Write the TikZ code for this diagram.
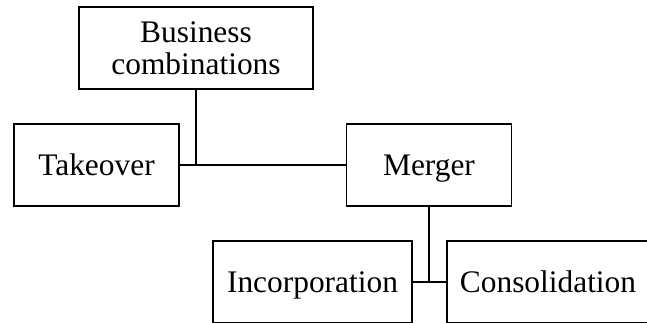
\documentclass[tikz,border=0pt]{standalone}
\usepackage{fontspec}
\setmainfont{Liberation Serif}
\usetikzlibrary{calc,positioning}

\begin{document}
\begin{tikzpicture}[x=0.5pt, y=-0.5pt, line width=0.8pt,
  block/.style={rectangle, draw, inner sep=0pt, minimum height=41pt},
  oneline/.style={text height=10pt, text depth=0pt}]
  \useasboundingbox (0,0) rectangle (647,322);
  \clip (0,0) rectangle (647,322);
  \fontsize{15.7}{16}\selectfont

  \node[block, minimum width=117pt, align=center] (business) at (196,48) {Business\\combinations};
  \node[block, oneline, minimum width=82.5pt] (takeover) at (96.5,165) {Takeover};
  \node[block, oneline, minimum width=82.5pt] (merger) at (429,165) {Merger};

  \node[block, oneline, minimum width=99.5pt] (incorp) at (312.5,282) {Incorporation};
  \node[block, oneline, minimum width=101pt] (consol) at (548,282) {Consolidation};

  \draw (business) -- (business |- takeover.east);
  \draw (takeover.east) -- (merger.west);
  \draw (merger) -- (merger |- incorp.east);
  \draw (incorp.east) -- (consol.west);

\end{tikzpicture}
\end{document}
